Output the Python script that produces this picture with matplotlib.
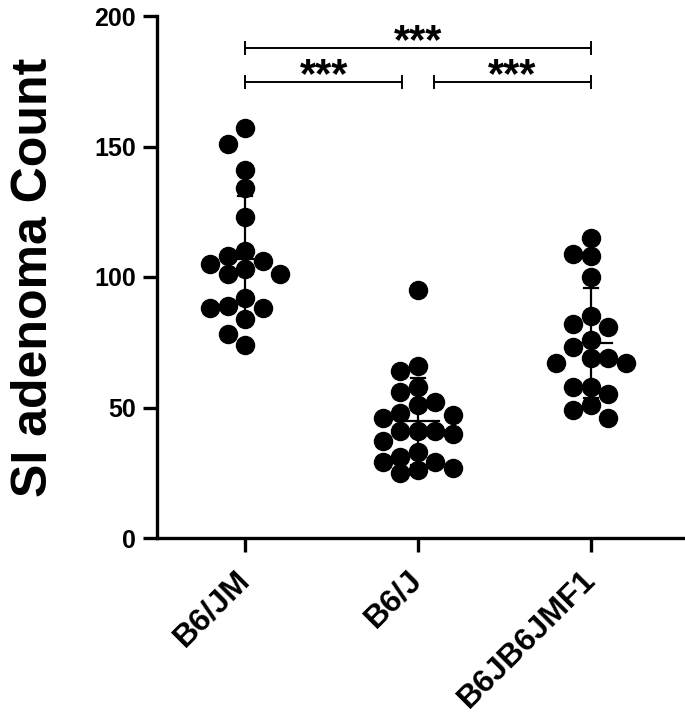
import matplotlib.pyplot as plt
import numpy as np

plt.rcParams['font.family'] = ['Liberation Sans', 'DejaVu Sans']
plt.rcParams['font.weight'] = 'bold'

groups = ['B6/JM', 'B6/J', 'B6JB6JMF1']
b6jm = [157, 151, 141, 134, 123, 110, 108, 106, 105, 103, 101, 101,
        92, 89, 88, 88, 84, 78, 74]
b6j = [95, 66, 64, 58, 56, 52, 51, 48, 47, 46, 41, 41, 41, 40, 37,
       33, 31, 29, 29, 27, 26, 25]
f1 = [115, 109, 108, 100, 85, 82, 81, 76, 73, 69, 69, 67, 67, 58, 58,
      55, 51, 49, 46]
data = [b6jm, b6j, f1]

# significance brackets: (group a, group b, label)
comparisons = [(0, 2, '***'), (0, 1, '***'), (1, 2, '***')]

W, H, DPI = 6.85, 7.17, 100
fig = plt.figure(figsize=(W, H), dpi=DPI)
ax = fig.add_axes([157 / 685, (717 - 538) / 717, (685 - 157) / 685, (538 - 16) / 717])
ymin, ymax = 0, 200
xmin, xmax = -0.51, 2.545
ax.set_ylim(ymin, ymax)
ax.set_xlim(xmin, xmax)

# pixel scales, used to spread the dots like a column scatter
bbox = ax.get_position()
px_y = H * DPI * bbox.height / (ymax - ymin)
px_x = W * DPI * bbox.width / (xmax - xmin)


def spread(values, dmin=16.0, half_width=35.0, base_step=17.5):
    vals = np.asarray(values, float)
    order = np.argsort(-vals, kind='stable')
    best = None
    for ncols in range(1, 10):
        step = 0 if ncols == 1 else min(base_step, 2 * half_width / (ncols - 1))
        cols = (np.arange(ncols) - (ncols - 1) / 2) * step
        offs = np.zeros(len(vals))
        placed = []
        bad = 0
        for i in order:
            y = vals[i] * px_y
            scores = []
            for c in cols:
                d = min([np.hypot(c - px, y - py) for px, py in placed] or [1e9])
                scores.append(d)
            scores = np.array(scores)
            okc = [k for k in range(ncols) if scores[k] >= dmin]
            if okc:
                mabs = min(abs(cols[k]) for k in okc)
                cand = [k for k in okc if abs(abs(cols[k]) - mabs) < 1e-6]
                k = max(cand, key=lambda k: scores[k])
            else:
                bad += 1
                k = int(np.argmax(scores))
            offs[i] = cols[k]
            placed.append((cols[k], y))
        if best is None or bad < best[0]:
            best = (bad, offs)
        if bad == 0:
            break
    return best[1] / px_x


lw = 1.6
for i, vals in enumerate(data):
    xs = i + spread(vals)
    ax.plot(xs, vals, 'o', ms=13, color='black', mec='black', zorder=3, clip_on=False)
    m = np.mean(vals)
    sd = np.std(vals, ddof=1)
    ax.plot([i, i], [m - sd, m + sd], color='black', lw=lw, zorder=4)
    for yy in (m - sd, m + sd):
        ax.plot([i - 0.04, i + 0.04], [yy, yy], color='black', lw=lw, zorder=4)
    ax.plot([i - 0.12, i + 0.12], [m, m], color='black', lw=lw, zorder=4)

# brackets
levels = {(0, 2): 187.7, (0, 1): 174.7, (1, 2): 174.7}
gap = 0.09
cap = 2.3
for a, b, lab in comparisons:
    y = levels[(a, b)]
    x0, x1 = a, b
    if (a, b) == (0, 1):
        x1 = b - gap
    if (a, b) == (1, 2):
        x0 = a + gap
    ax.plot([x0, x1], [y, y], color='black', lw=1.4, clip_on=False)
    for xx in (x0, x1):
        ax.plot([xx, xx], [y - cap, y + cap], color='black', lw=1.4, clip_on=False)
    ax.text((x0 + x1) / 2, y - 1.8, lab, ha='center', va='baseline',
            fontsize=30, fontweight='bold')

ax.spines['top'].set_visible(False)
ax.spines['right'].set_visible(False)
for s in ('left', 'bottom'):
    ax.spines[s].set_linewidth(2.4)

ax.set_yticks([0, 50, 100, 150, 200])
ax.tick_params(axis='y', width=2.4, length=10, labelsize=18, pad=5)
ax.set_xticks(range(len(groups)))
ax.set_xticklabels(groups, rotation=45, ha='right', va='center', rotation_mode='anchor')
ax.tick_params(axis='x', width=2.4, length=10, labelsize=23, pad=17)

ax.set_ylabel('SI adenoma Count', fontsize=36, fontweight='bold')
ax.yaxis.set_label_coords(-0.19, 0.5)

fig.savefig('out.png', dpi=DPI)
